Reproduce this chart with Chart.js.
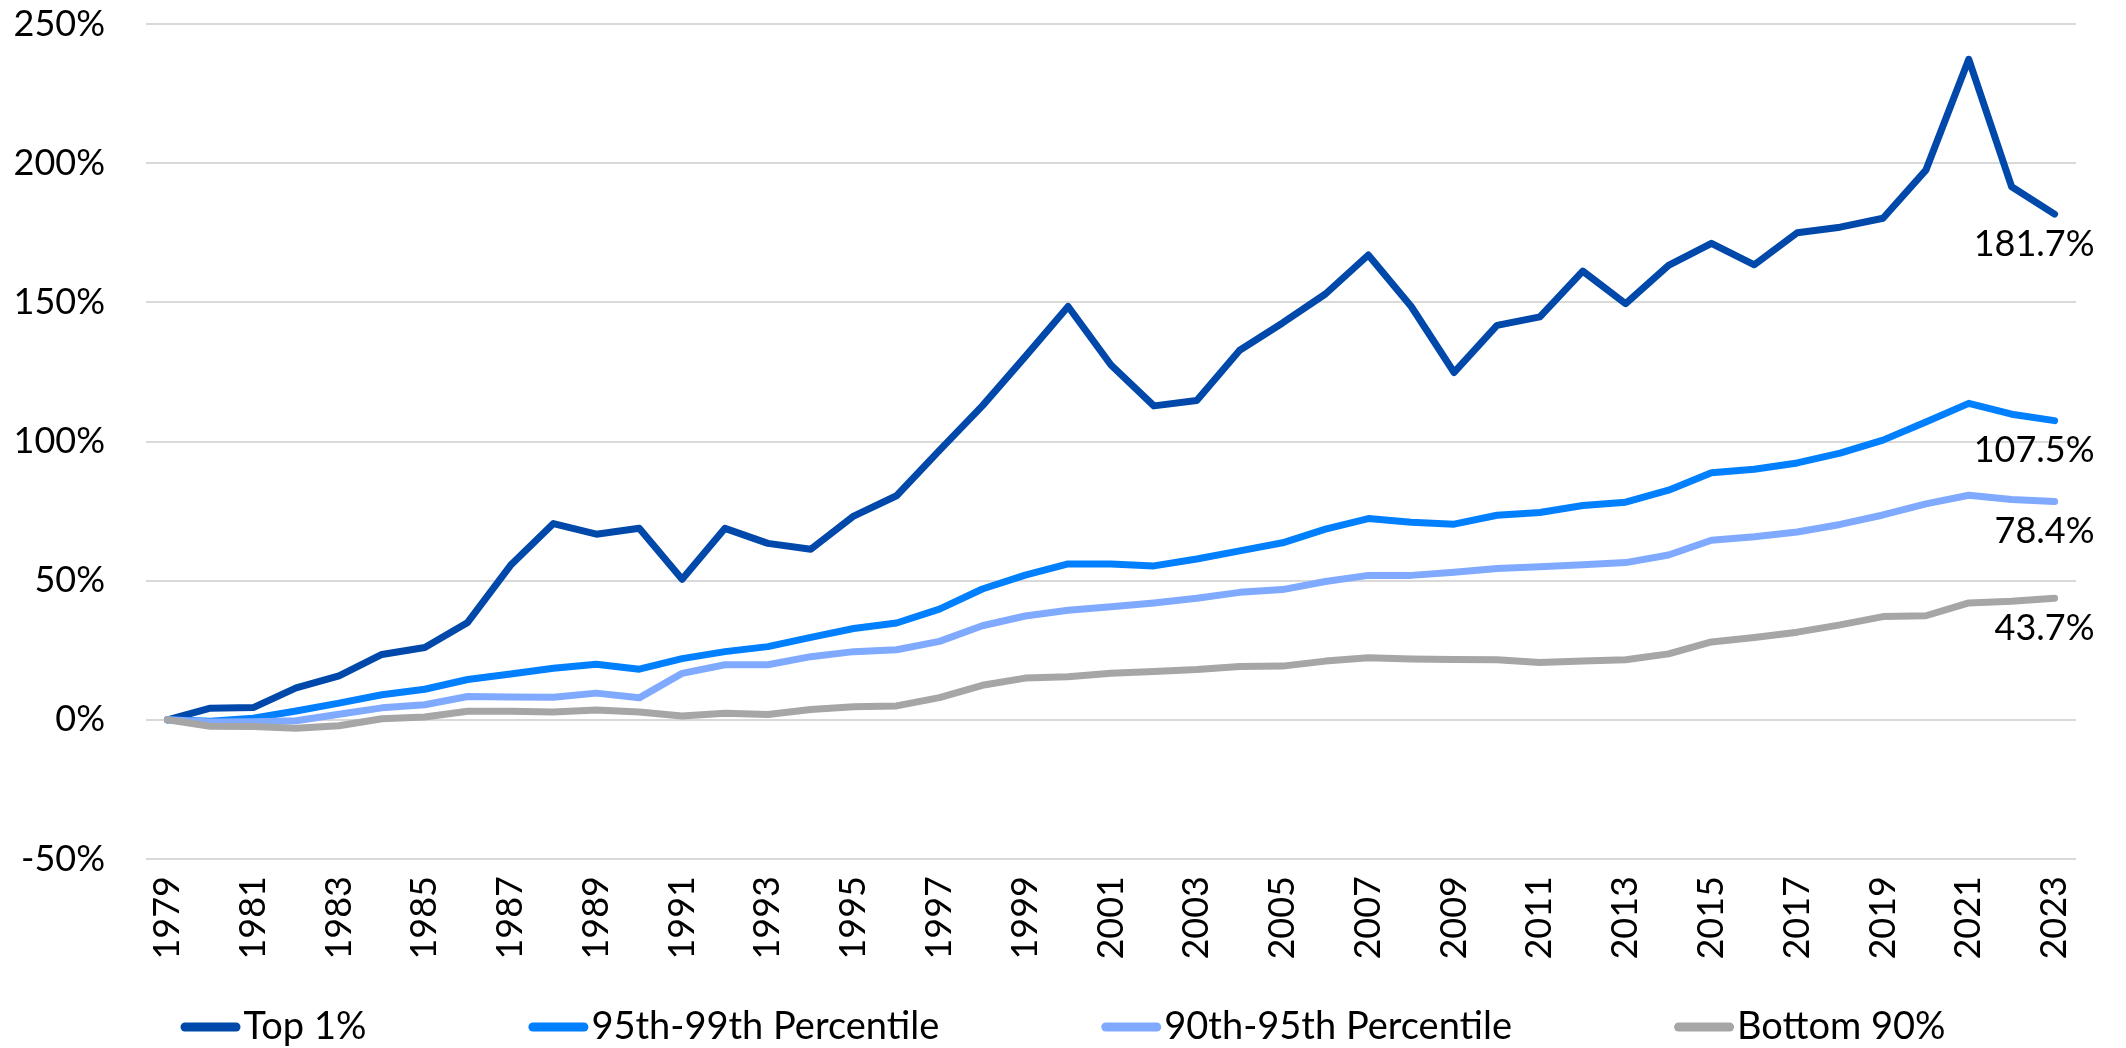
<!DOCTYPE html>
<html>
<head>
<meta charset="utf-8">
<script src="https://cdn.jsdelivr.net/npm/chart.js@4.4.1/dist/chart.umd.min.js"></script>
<style>
  html, body { margin: 0; padding: 0; background: #fff; }
  #wrap { width: 2126px; height: 1048px; position: relative; }
</style>
</head>
<body>
<div id="wrap"><canvas id="chart"></canvas></div>
<script>
const years = [
  '1979', '1980', '1981', '1982', '1983', '1984', '1985', '1986', '1987', '1988',
  '1989', '1990', '1991', '1992', '1993', '1994', '1995', '1996', '1997', '1998',
  '1999', '2000', '2001', '2002', '2003', '2004', '2005', '2006', '2007', '2008',
  '2009', '2010', '2011', '2012', '2013', '2014', '2015', '2016', '2017', '2018',
  '2019', '2020', '2021', '2022', '2023',
];

const seriesNames = ['Top 1%', '95th-99th Percentile', '90th-95th Percentile', 'Bottom 90%'];

const top1 = [
  0, 4.2, 4.4, 11.5, 15.8, 23.5, 26, 35, 55.5, 70.5,
  66.7, 68.8, 50.5, 68.8, 63.4, 61.3, 73.2, 80.5, 96.8, 112.8,
  130.5, 148.5, 127.5, 112.8, 114.7, 132.8, 142.6, 153, 167, 148.5,
  124.8, 141.7, 144.8, 161.2, 149.5, 163.3, 171.2, 163.5, 175, 177,
  180.2, 197.5, 237.3, 191.5, 181.7,
];

const pct95to99 = [
  0, -0.5, 0.6, 3.2, 6, 9, 11, 14.5, 16.5, 18.5,
  20, 18.2, 22, 24.5, 26.3, 29.6, 32.8, 34.8, 39.8, 47,
  52, 56, 56, 55.3, 57.8, 60.7, 63.6, 68.5, 72.3, 71,
  70.3, 73.5, 74.5, 77, 78.2, 82.5, 88.8, 90, 92.3, 95.8,
  100.5, 107, 113.7, 109.8, 107.5,
];

const pct90to95 = [
  0, -0.8, -0.7, -0.3, 2, 4.3, 5.4, 8.4, 8.2, 8.1,
  9.6, 7.9, 16.7, 19.8, 19.8, 22.7, 24.5, 25.2, 28.2, 33.8,
  37.3, 39.4, 40.6, 42, 43.7, 45.8, 46.8, 49.7, 51.9, 51.9,
  53, 54.4, 55, 55.7, 56.5, 59.2, 64.5, 65.8, 67.5, 70.2,
  73.6, 77.6, 80.7, 79.2, 78.4,
];

const bottom90 = [
  0, -2.3, -2.4, -3, -2.1, 0.4, 1, 3.1, 3.1, 2.8,
  3.5, 2.8, 1.4, 2.4, 1.9, 3.7, 4.7, 5, 8, 12.4,
  15, 15.5, 16.7, 17.4, 18.1, 19.2, 19.3, 21.1, 22.3, 21.9,
  21.7, 21.6, 20.6, 21.1, 21.6, 23.7, 28, 29.6, 31.5, 34.1,
  37.1, 37.4, 42, 42.6, 43.7,
];

const COLORS = ['#0048AA', '#0080FF', '#80AAFF', '#A6A6A6'];
const FONT = "Lato, 'Open Sans', sans-serif";
const TICK_SIZE = 36;
const LEGEND_SIZE = 38;

// labels under the last point of each line
const endLabels = {
  id: 'endLabels',
  afterDatasetsDraw(chart) {
    const ctx = chart.ctx;
    ctx.save();
    ctx.font = `${TICK_SIZE}px ${FONT}`;
    ctx.fillStyle = '#000';
    ctx.textAlign = 'right';
    ctx.textBaseline = 'middle';
    chart.data.datasets.forEach((ds, i) => {
      const meta = chart.getDatasetMeta(i);
      const pt = meta.data[meta.data.length - 1];
      const v = ds.data[ds.data.length - 1];
      ctx.fillText(v.toFixed(1) + '%', pt.x + 40, pt.y + 30);
    });
    ctx.restore();
  },
};

// Excel-like legend: short thick line, text right next to it
const bottomLegend = {
  id: 'bottomLegend',
  afterDraw(chart) {
    const ctx = chart.ctx;
    const markerW = 60, gap = 3, itemGap = 162;
    const y = chart.height - 21;
    ctx.save();
    ctx.font = `${LEGEND_SIZE}px ${FONT}`;
    const widths = chart.data.datasets.map(ds => ctx.measureText(ds.label).width);
    const total = widths.reduce((a, w) => a + markerW + gap + w, 0) + itemGap * (widths.length - 1);
    let x = (chart.width - total) / 2;
    chart.data.datasets.forEach((ds, i) => {
      ctx.strokeStyle = ds.borderColor;
      ctx.lineWidth = 9;
      ctx.lineCap = 'round';
      ctx.beginPath();
      ctx.moveTo(x + 4.5, y);
      ctx.lineTo(x + markerW - 4.5, y);
      ctx.stroke();
      ctx.fillStyle = '#000';
      ctx.textAlign = 'left';
      ctx.textBaseline = 'middle';
      ctx.fillText(ds.label, x + markerW + gap, y);
      x += markerW + gap + widths[i] + itemGap;
    });
    ctx.restore();
  },
};

const seriesData = [top1, pct95to99, pct90to95, bottom90];

new Chart(document.getElementById('chart'), {
  type: 'line',
  data: {
    labels: years,
    datasets: seriesData.map((d, i) => ({
      label: seriesNames[i],
      data: d,
      borderColor: COLORS[i],
      backgroundColor: COLORS[i],
      borderWidth: 7,
      borderCapStyle: 'round',
      borderJoinStyle: 'round',
      pointRadius: 0,
      tension: 0,
      order: seriesData.length - i,
    })),
  },
  options: {
    responsive: true,
    maintainAspectRatio: false,
    animation: false,
    layout: { padding: { left: 0, right: 50, top: 24, bottom: 87 } },
    plugins: {
      legend: { display: false },
      tooltip: { enabled: false },
    },
    scales: {
      x: {
        offset: true,
        grid: { display: false, drawTicks: false },
        border: { display: false },
        ticks: {
          autoSkip: false,
          minRotation: 90,
          maxRotation: 90,
          padding: 17,
          color: '#000',
          font: { family: FONT, size: TICK_SIZE },
          callback: (val, idx) => (idx % 2 === 0 ? years[idx] : ''),
        },
        afterFit: (scale) => {
          scale.height = 102;
          scale.paddingLeft = 0;
          scale.paddingRight = 0;
        },
      },
      y: {
        min: -50,
        max: 250,
        grid: { color: '#D9D9D9', lineWidth: 2, drawTicks: false },
        border: { display: false },
        ticks: {
          stepSize: 50,
          padding: 41,
          color: '#000',
          font: { family: FONT, size: TICK_SIZE },
          callback: (val) => val + '%',
        },
        afterFit: (scale) => {
          scale.width = 146;
          scale.paddingTop = 0;
          scale.paddingBottom = 0;
        },
      },
    },
  },
  plugins: [endLabels, bottomLegend],
});
</script>
</body>
</html>
